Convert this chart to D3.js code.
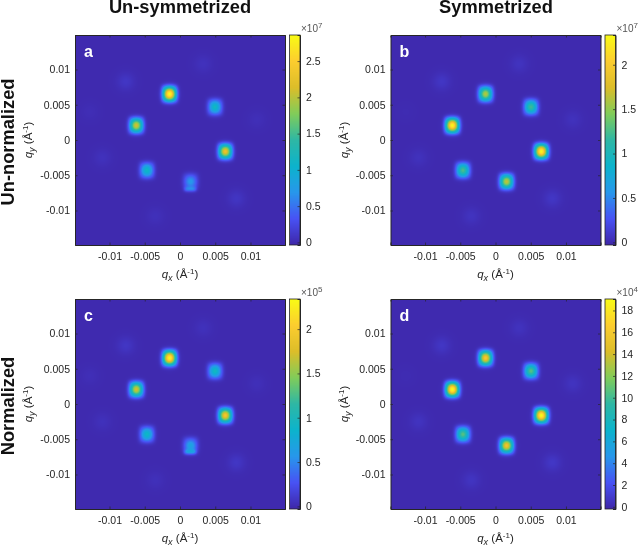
<!DOCTYPE html>
<html><head><meta charset="utf-8">
<script src="https://cdn.jsdelivr.net/npm/d3@7"></script>
<style>
html,body{margin:0;padding:0;background:#fff}
#wrap{position:relative;width:640px;height:545px;overflow:hidden}
canvas,svg{position:absolute;left:0;top:0}
text{font-family:"Liberation Sans",Arial,sans-serif}
</style></head><body><div id="wrap"></div>
<script>
// Peak positions (inverse angstrom)
const brightQx=[-0.00148,0.00497,-0.0062,0.00643,-0.00469,0.00150];
const brightQy=[0.00653,0.00468,0.00207,-0.00162,-0.00430,-0.00590];
const faintQx=[-0.0077,0.0033,-0.0128,0.0109,-0.0110,0.0080,-0.0035];
const faintQy=[0.0083,0.0108,0.0040,0.0029,-0.0025,-0.0083,-0.0108];
// Peak heights per panel, in colorbar units
const brightA=[2.85,1.15,2.1,2.3,1.12,0.72];
const brightB=[1.6,1.2,2.3,2.3,1.25,1.65];
const brightC=[2.3,0.95,1.72,1.95,0.92,0.68];
const brightD=[16,10.5,19,19,10.5,15.5];
const faintA=[0.10,0.06,0.03,0.04,0.06,0.09,0.05];
const faintB=[0.08,0.06,0.01,0.05,0.05,0.08,0.06];
const faintC=[0.08,0.045,0.03,0.035,0.045,0.08,0.04];
const faintD=[0.65,0.45,0.1,0.5,0.5,0.7,0.55];
// Extra split spots below the sixth peak (un-symmetrized panels)
const extraA=[{qx:0.00145,qy:-0.00698,v:0.42}];
const extraC=[{qx:0.00145,qy:-0.00680,v:0.40}];
const noExtra=[];
const tickQ=[-0.01,-0.005,0,0.005,0.01];
const tickQLabels=["-0.01","-0.005","0","0.005","0.01"];
const cbTicksA=[0,0.5,1,1.5,2,2.5];
const cbTicksB=[0,0.5,1,1.5,2];
const cbTicksC=[0,0.5,1,1.5,2];
const cbTicksD=[0,2,4,6,8,10,12,14,16,18];
const parula=["#3E26A8","#4852F4","#2797EB","#0CB3CC","#2EB7A4","#81CC59","#DCBD29","#FCCD2F","#F9FB15"];
const panels=[
 {id:"a",left:75,top:35,bright:brightA,faint:faintA,extra:extraA,dom:[-0.036,2.86],ticks:cbTicksA,exp:"7"},
 {id:"b",left:390.5,top:35,bright:brightB,faint:faintB,extra:noExtra,dom:[-0.03,2.335],ticks:cbTicksB,exp:"7"},
 {id:"c",left:75,top:299,bright:brightC,faint:faintC,extra:extraC,dom:[-0.03,2.34],ticks:cbTicksC,exp:"5"},
 {id:"d",left:390.5,top:299,bright:brightD,faint:faintD,extra:noExtra,dom:[-0.2,19.05],ticks:cbTicksD,exp:"4"}
];
const S=210, LIM=0.0149, CBX=214.5, CBW=10.5, INK="#262626";
const wrap=d3.select("#wrap");
const svg=wrap.append("svg").attr("width",640).attr("height",545).style("z-index",2);

function field(p,qx,qy){
  const range=p.dom[1]-p.dom[0];
  let v=p.dom[0]+range*0.012;
  const core=(dx,dy,h,s1,s2,k)=>{
    const ey=dy/1.1;
    const r=(dx*dx+ey*ey)/(s1*s1), q=(dx**4+ey**4)/(s2**4);
    return h*(k*Math.exp(-r)+(1-k)*Math.exp(-q));
  };
  brightQx.forEach((x,i)=>{v+=core(qx-x,qy-brightQy[i],p.bright[i],0.00078,0.00112,0.72);});
  p.extra.forEach(e=>{const dx=(qx-e.qx)/0.00085,dy=(qy-e.qy)/0.00036;v+=e.v*Math.exp(-(dx**4)-dy*dy);});
  faintQx.forEach((x,i)=>{const dx=qx-x,dy=qy-faintQy[i];v+=p.faint[i]*Math.exp(-(dx*dx+dy*dy)/(0.0012*0.0012));});
  return v;
}

panels.forEach(p=>{
  const x=d3.scaleLinear().domain([-LIM,LIM]).range([0,S]);
  const y=d3.scaleLinear().domain([-LIM,LIM]).range([S,0]);
  const cy=d3.scaleLinear().domain(p.dom).range([S,0]);
  const color=d3.scaleLinear().domain(parula.map((_,i)=>p.dom[0]+(p.dom[1]-p.dom[0])*i/(parula.length-1))).range(parula).clamp(true);

  // Heatmap
  const cv=wrap.append("canvas").attr("width",S).attr("height",S)
    .style("left",p.left+"px").style("top",p.top+"px").style("z-index",1).node();
  const ctx=cv.getContext("2d"); const img=ctx.createImageData(S,S);
  for(let j=0;j<S;j++)for(let i=0;i<S;i++){
    const c=d3.rgb(color(field(p,x.invert(i+.5),y.invert(j+.5)))),k=4*(j*S+i);
    img.data[k]=c.r;img.data[k+1]=c.g;img.data[k+2]=c.b;img.data[k+3]=255;
  }
  ctx.putImageData(img,0,0);

  // Colorbar
  const cb=wrap.append("canvas").attr("width",Math.ceil(CBW)).attr("height",S)
    .style("left",(p.left+CBX)+"px").style("top",p.top+"px").style("z-index",1).node();
  const c2=cb.getContext("2d");
  for(let j=0;j<S;j++){c2.fillStyle=color(cy.invert(j+.5));c2.fillRect(0,j,Math.ceil(CBW),1);}

  const g=svg.append("g").attr("transform",`translate(${p.left},${p.top})`);
  const styleAxis=a=>{a.select(".domain").attr("stroke",INK).attr("stroke-width",1);
    a.selectAll(".tick line").attr("stroke",INK).attr("stroke-width",.7);
    a.selectAll("text").attr("fill",INK).style("font-size","10.5px").style("font-family",'"Liberation Sans",Arial,sans-serif');};
  const fmt=d=>tickQLabels[tickQ.indexOf(d)];
  g.append("g").attr("transform",`translate(0,${S})`).call(d3.axisBottom(x).tickValues(tickQ).tickFormat(fmt).tickSize(-2.5).tickPadding(8)).call(styleAxis);
  g.append("g").call(d3.axisLeft(y).tickValues(tickQ).tickFormat(fmt).tickSize(-2.5).tickPadding(5)).call(styleAxis);
  g.append("g").call(d3.axisTop(x).tickValues(tickQ).tickFormat("").tickSize(-2.5)).call(styleAxis);
  g.append("g").attr("transform",`translate(${S},0)`).call(d3.axisRight(y).tickValues(tickQ).tickFormat("").tickSize(-2.5)).call(styleAxis);

  // Colorbar axis
  const cg=g.append("g").attr("transform",`translate(${CBX},0)`);
  cg.append("g").attr("transform",`translate(${CBW},0)`).call(d3.axisRight(cy).tickValues(p.ticks).tickFormat(d=>String(d)).tickSize(-2.5).tickPadding(6)).call(styleAxis);
  cg.append("rect").attr("width",CBW).attr("height",S).attr("fill","none").attr("stroke",INK).attr("stroke-width",.8);
  const ex=cg.append("text").attr("x",CBW+1).attr("y",-3).attr("fill","#555").style("font-size","10px");
  ex.append("tspan").text("×10");
  ex.append("tspan").attr("dy",-4).style("font-size","8px").text(p.exp);

  // Panel letter
  g.append("text").attr("x",9).attr("y",22).attr("fill","#fff").style("font-size","16px").style("font-weight","700").text(p.id);

  // Axis labels
  const xl=g.append("text").attr("text-anchor","middle").attr("x",105).attr("y",S+33).attr("fill",INK).style("font-size","11.5px");
  const yl=g.append("text").attr("text-anchor","middle").attr("transform",`translate(-43,105) rotate(-90)`).attr("fill",INK).style("font-size","11.5px");
  [[xl,"x"],[yl,"y"]].forEach(([t,s])=>{
    t.append("tspan").style("font-style","italic").text("q");
    t.append("tspan").attr("dy",3).style("font-style","italic").style("font-size","9px").text(s);
    t.append("tspan").attr("dy",-3).text(" (Å");
    t.append("tspan").attr("dy",-4).style("font-size","8px").text("-1");
    t.append("tspan").attr("dy",4).text(")");
  });
});

// Headings
const head=(x,y,t,r)=>svg.append("text").attr("text-anchor","middle")
  .attr("transform",`translate(${x},${y})`+(r?" rotate(-90)":"")).attr("fill","#111")
  .style("font-size","18.3px").style("font-weight","700").text(t);
head(180,13,"Un-symmetrized");
head(496,13,"Symmetrized");
head(14,142,"Un-normalized",true);
head(14,406,"Normalized",true);
</script></body></html>
